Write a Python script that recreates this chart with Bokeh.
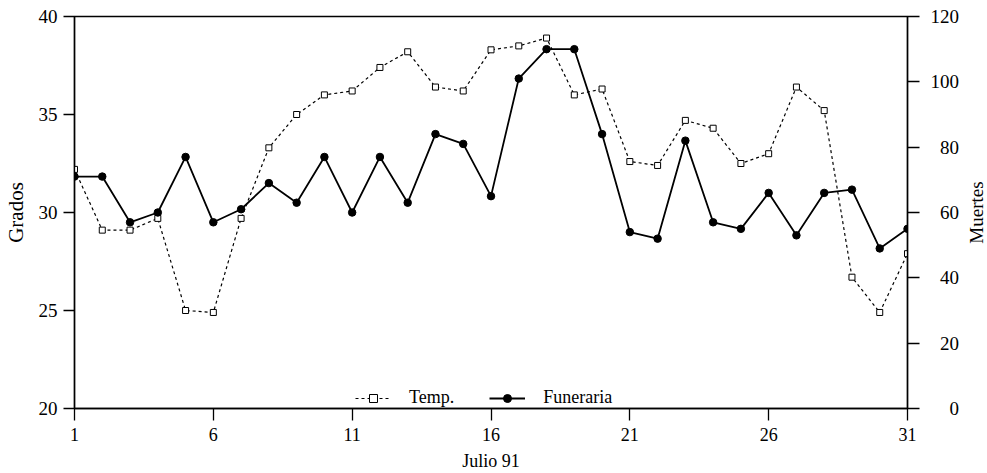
import math
from bokeh.plotting import figure
from bokeh.layouts import row
from bokeh.models import (Range1d, LinearAxis, FixedTicker, Legend, LegendItem,
                          CustomJSTickFormatter)
from bokeh.embed import file_html
from bokeh.resources import INLINE

# ---- data ----
dias = list(range(1, 32))
temp = [32.2, 29.1, 29.1, 29.7, 25.0, 24.9, 29.7, 33.3, 35.0, 36.0,
        36.2, 37.4, 38.2, 36.4, 36.2, 38.3, 38.5, 38.9, 36.0, 36.3,
        32.6, 32.4, 34.7, 34.3, 32.5, 33.0, 36.4, 35.2, 26.7, 24.9, 27.9]
funeraria = [71, 71, 57, 60, 77, 57, 61, 69, 63, 77,
             60, 77, 63, 84, 81, 65, 101, 110, 110, 84,
             54, 52, 82, 57, 55, 66, 53, 66, 67, 49, 55]
x_ticks = [1, 6, 11, 16, 21, 26, 31]
y_ticks = [20, 25, 30, 35, 40]
y2_ticks = [0, 20, 40, 60, 80, 100, 120]

FONT = "Liberation Serif"
FS = "18px"

p = figure(width=962, height=473, output_backend="svg", toolbar_location=None,
           x_range=Range1d(1, 31), y_range=Range1d(20, 40),
           min_border_left=73, min_border_right=54, min_border_top=16, min_border_bottom=65)
p.extra_y_ranges = {"muertes": Range1d(0, 120)}

p.xgrid.visible = False
p.ygrid.visible = False
p.outline_line_color = "black"
p.outline_line_width = 1.5
p.background_fill_color = "white"
p.border_fill_color = "white"

# axes
xa = p.xaxis[0]
xa.ticker = FixedTicker(ticks=x_ticks)
xa.axis_label = "Julio 91"
ya = p.yaxis[0]
ya.ticker = FixedTicker(ticks=y_ticks)
ya.axis_label = "Grados"

y2 = LinearAxis(y_range_name="muertes", ticker=FixedTicker(ticks=y2_ticks))
y2.formatter = CustomJSTickFormatter(code="""
const s = tick.toFixed(0);
return '\\u2007'.repeat(Math.max(0, 3 - s.length)) + s;
""")
p.add_layout(y2, "right")

for ax in [xa, ya, y2]:
    ax.axis_line_color = "black"
    ax.axis_line_width = 1.3
    ax.major_tick_line_color = "black"
    ax.major_tick_line_width = 1.3
    ax.major_tick_in = 0
    ax.minor_tick_line_color = None
    ax.major_label_text_font = FONT
    ax.major_label_text_font_size = FS
    ax.major_label_text_color = "black"
    ax.axis_label_text_font = FONT
    ax.axis_label_text_font_size = FS
    ax.axis_label_text_font_style = "normal"
    ax.axis_label_text_color = "black"

xa.major_tick_out = 12
xa.major_label_standoff = 7
xa.axis_label_standoff = 7
ya.major_tick_out = 11
ya.major_label_standoff = 6
ya.major_label_text_font_size = "19px"
ya.axis_label_standoff = 8
ya.axis_label_text_font_size = "21px"
y2.major_tick_out = 12
y2.major_label_standoff = 11
y2.major_label_text_font_size = "19px"

# series
l1 = p.line(dias, temp, line_color="black", line_width=1.2, line_dash="3 3")
s1 = p.scatter(dias, temp, marker="square", size=6, fill_color="white",
               line_color="black", line_width=1)
l2 = p.line(dias, funeraria, line_color="black", line_width=1.8, y_range_name="muertes")
s2 = p.scatter(dias, funeraria, marker="circle", size=7.5, fill_color="black",
               line_color="black", y_range_name="muertes")

legend = Legend(items=[LegendItem(label="Temp.", renderers=[l1, s1]),
                       LegendItem(label="Funeraria", renderers=[l2, s2])],
                location=(281, 0), orientation="horizontal",
                border_line_color=None, background_fill_alpha=0,
                label_text_font=FONT, label_text_font_size=FS,
                label_text_color="black",
                glyph_width=36, label_standoff=18, spacing=35,
                padding=5, margin=0)
p.add_layout(legend)

# narrow companion figure carrying the right-hand title "Muertes" (reads bottom-to-top)
p2 = figure(width=25, height=473, output_backend="svg", toolbar_location=None,
            x_range=Range1d(0, 1), y_range=Range1d(0, 1),
            min_border_left=24, min_border_right=0, min_border_top=16, min_border_bottom=65)
p2.outline_line_color = None
p2.xgrid.visible = False
p2.ygrid.visible = False
p2.xaxis.visible = False
p2.background_fill_color = "white"
p2.border_fill_color = "white"
ay = p2.yaxis[0]
ay.ticker = FixedTicker(ticks=[5])   # outside the range: no tick labels drawn
ay.major_label_standoff = 0
ay.major_tick_out = 0
ay.major_tick_in = 0
ay.axis_line_color = None
ay.major_tick_line_color = None
ay.minor_tick_line_color = None
ay.axis_label = "Muertes"
ay.axis_label_standoff = 0
ay.axis_label_text_font = FONT
ay.axis_label_text_font_size = "19px"
ay.axis_label_text_font_style = "normal"
ay.axis_label_text_color = "black"

layout = row(p, p2, spacing=0)
open("out.html", "w").write(file_html(layout, INLINE))
